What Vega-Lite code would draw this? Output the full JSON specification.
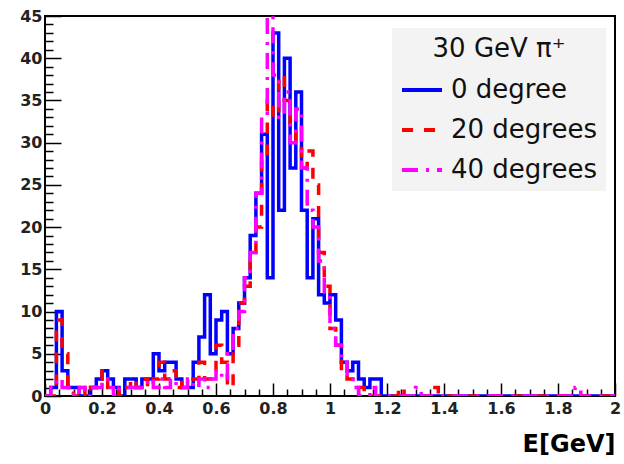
{
  "$schema": "https://vega.github.io/schema/vega-lite/v6.json",
  "autosize": {"type": "none"},
  "padding": {"left": 45, "top": 16, "right": 9, "bottom": 68},
  "width": 570,
  "height": 380,
  "background": "white",
  "config": {
    "font": "DejaVu Sans",
    "view": {"stroke": "black", "strokeWidth": 2}
  },
  "data": {"values": [
    {"E":0.00,"b":0,"r":0,"m":0},{"E":0.02,"b":1,"r":0,"m":1},{"E":0.04,"b":10,"r":9,"m":2},{"E":0.06,"b":3,"r":5,"m":1},
    {"E":0.08,"b":1,"r":1,"m":1},{"E":0.10,"b":1,"r":0,"m":0},{"E":0.12,"b":0,"r":1,"m":1},{"E":0.14,"b":0,"r":0,"m":0},
    {"E":0.16,"b":1,"r":1,"m":1},{"E":0.18,"b":2,"r":2,"m":1},{"E":0.20,"b":3,"r":3,"m":2},{"E":0.22,"b":2,"r":1,"m":1},
    {"E":0.24,"b":1,"r":1,"m":0},{"E":0.26,"b":0,"r":0,"m":1},{"E":0.28,"b":2,"r":1,"m":1},{"E":0.30,"b":2,"r":2,"m":1},
    {"E":0.32,"b":1,"r":1,"m":1},{"E":0.34,"b":2,"r":2,"m":1},{"E":0.36,"b":2,"r":1,"m":2},{"E":0.38,"b":5,"r":2,"m":1},
    {"E":0.40,"b":3,"r":4,"m":2},{"E":0.42,"b":4,"r":2,"m":1},{"E":0.44,"b":4,"r":3,"m":2},{"E":0.46,"b":2,"r":1,"m":1},
    {"E":0.48,"b":1,"r":2,"m":1},{"E":0.50,"b":1,"r":2,"m":2},{"E":0.52,"b":4,"r":2,"m":1},{"E":0.54,"b":7,"r":4,"m":2},
    {"E":0.56,"b":12,"r":2,"m":1},{"E":0.58,"b":5,"r":3,"m":2},{"E":0.60,"b":9,"r":6,"m":3},{"E":0.62,"b":10,"r":4,"m":2},
    {"E":0.64,"b":5,"r":1,"m":5},{"E":0.66,"b":8,"r":6,"m":8},{"E":0.68,"b":11,"r":11,"m":10},{"E":0.70,"b":14,"r":13,"m":14},
    {"E":0.72,"b":19,"r":17,"m":17},{"E":0.74,"b":24,"r":20,"m":24},{"E":0.76,"b":31,"r":28,"m":33},{"E":0.78,"b":14,"r":35,"m":45},
    {"E":0.80,"b":43,"r":33,"m":38},{"E":0.82,"b":22,"r":38,"m":33},{"E":0.84,"b":40,"r":35,"m":36},{"E":0.86,"b":27,"r":32,"m":30},
    {"E":0.88,"b":36,"r":30,"m":34},{"E":0.90,"b":22,"r":27,"m":27},{"E":0.92,"b":14,"r":29,"m":22},{"E":0.94,"b":21,"r":25,"m":20},
    {"E":0.96,"b":12,"r":17,"m":16},{"E":0.98,"b":11,"r":13,"m":12},{"E":1.00,"b":12,"r":8,"m":8},{"E":1.02,"b":9,"r":6,"m":6},
    {"E":1.04,"b":4,"r":3,"m":4},{"E":1.06,"b":3,"r":2,"m":2},{"E":1.08,"b":4,"r":1,"m":1},{"E":1.10,"b":2,"r":1,"m":0},
    {"E":1.12,"b":1,"r":0,"m":0},{"E":1.14,"b":2,"r":0,"m":1},{"E":1.16,"b":2,"r":0,"m":0},{"E":1.18,"b":0,"r":0,"m":0},
    {"E":1.20,"b":0,"r":0,"m":0},{"E":1.22,"b":0,"r":0,"m":0},{"E":1.24,"b":0,"r":1,"m":0},{"E":1.26,"b":0,"r":0,"m":0},
    {"E":1.28,"b":0,"r":0,"m":0},{"E":1.30,"b":0,"r":0,"m":1},{"E":1.32,"b":0,"r":0,"m":0},{"E":1.34,"b":0,"r":0,"m":0},
    {"E":1.36,"b":0,"r":1,"m":0},{"E":1.38,"b":0,"r":0,"m":0},{"E":1.40,"b":0,"r":0,"m":0},{"E":1.42,"b":0,"r":0,"m":0},
    {"E":1.44,"b":0,"r":0,"m":0},{"E":1.46,"b":0,"r":0,"m":0},{"E":1.48,"b":0,"r":0,"m":0},{"E":1.50,"b":0,"r":0,"m":0},
    {"E":1.52,"b":0,"r":0,"m":0},{"E":1.54,"b":0,"r":0,"m":0},{"E":1.56,"b":0,"r":0,"m":0},{"E":1.58,"b":0,"r":0,"m":0},
    {"E":1.60,"b":0,"r":0,"m":0},{"E":1.62,"b":0,"r":0,"m":0},{"E":1.64,"b":0,"r":0,"m":0},{"E":1.66,"b":0,"r":0,"m":0},
    {"E":1.68,"b":0,"r":0,"m":0},{"E":1.70,"b":0,"r":0,"m":0},{"E":1.72,"b":0,"r":0,"m":0},{"E":1.74,"b":0,"r":0,"m":0},
    {"E":1.76,"b":0,"r":0,"m":0},{"E":1.78,"b":0,"r":0,"m":0},{"E":1.80,"b":0,"r":0,"m":0},{"E":1.82,"b":0,"r":0,"m":0},
    {"E":1.84,"b":0,"r":0,"m":0},{"E":1.86,"b":0,"r":0,"m":1},{"E":1.88,"b":0,"r":0,"m":0},{"E":1.90,"b":0,"r":0,"m":0},
    {"E":1.92,"b":0,"r":0,"m":0},{"E":1.94,"b":0,"r":0,"m":0},{"E":1.96,"b":0,"r":0,"m":0},{"E":1.98,"b":0,"r":0,"m":0},
    {"E":2.00,"b":0,"r":0,"m":0}
  ]},
  "transform": [{"fold": ["b", "r", "m"], "as": ["series", "n"]}],
  "mark": {"type": "line", "interpolate": "step-after", "strokeWidth": 3.5, "clip": true},
  "encoding": {
    "x": {
      "field": "E", "type": "quantitative",
      "scale": {"domain": [0, 2], "nice": false, "zero": false},
      "axis": {
        "title": "E[GeV]", "titleAnchor": "end", "titleFontSize": 24, "titleFontWeight": "bold", "titleColor": "black", "titlePadding": 10,
        "values": [0,0.05,0.1,0.15,0.2,0.25,0.3,0.35,0.4,0.45,0.5,0.55,0.6,0.65,0.7,0.75,0.8,0.85,0.9,0.95,1,1.05,1.1,1.15,1.2,1.25,1.3,1.35,1.4,1.45,1.5,1.55,1.6,1.65,1.7,1.75,1.8,1.85,1.9,1.95,2],
        "labelExpr": "abs(datum.value*5 - round(datum.value*5)) < 0.000001 ? format(datum.value, '~g') : ''",
        "labelOverlap": false, "labelFlush": false,
        "labelFontSize": 16, "labelFontWeight": "bold", "labelColor": "#222", "labelPadding": 17,
        "domain": false, "grid": false,
        "tickColor": "black", "tickWidth": 1.5,
        "tickSize": {"condition": {"test": "abs(datum.value*5 - round(datum.value*5)) < 0.000001", "value": -13}, "value": -7}
      }
    },
    "y": {
      "field": "n", "type": "quantitative",
      "scale": {"domain": [0, 45], "nice": false},
      "axis": {
        "title": null,
        "values": [0,1,2,3,4,5,6,7,8,9,10,11,12,13,14,15,16,17,18,19,20,21,22,23,24,25,26,27,28,29,30,31,32,33,34,35,36,37,38,39,40,41,42,43,44,45],
        "labelExpr": "datum.value % 5 == 0 ? datum.label : ''",
        "labelOverlap": false, "labelFlush": false,
        "labelFontSize": 16, "labelFontWeight": "bold", "labelColor": "#222", "labelPadding": 19,
        "domain": false, "grid": false,
        "tickColor": "black", "tickWidth": 1.5,
        "tickSize": {"condition": {"test": "datum.value % 5 == 0", "value": -16}, "value": -8}
      }
    },
    "color": {
      "field": "series", "type": "nominal",
      "scale": {"domain": ["b", "r", "m"], "range": ["#0000ff", "#ff0000", "#ff00ff"]},
      "legend": {
        "orient": "none", "legendX": 347, "legendY": 12,
        "title": "30 GeV π⁺", "titleAnchor": "middle",
        "titleFontSize": 26, "titleFontWeight": "normal", "titleColor": "#111", "titlePadding": 6,
        "labelExpr": "datum.label == 'b' ? '0 degree' : datum.label == 'r' ? '20 degrees' : '40 degrees'",
        "labelFontSize": 26, "labelColor": "#111", "labelOffset": 7,
        "symbolType": "stroke", "symbolSize": 1600, "symbolStrokeWidth": 4,
        "fillColor": "#f3f3f3", "padding": 8, "rowPadding": 5
      }
    },
    "strokeDash": {
      "field": "series", "type": "nominal",
      "scale": {"domain": ["b", "r", "m"], "range": [[1, 0], [11, 11], [16, 8, 3, 8]]},
      "legend": null
    }
  }
}
